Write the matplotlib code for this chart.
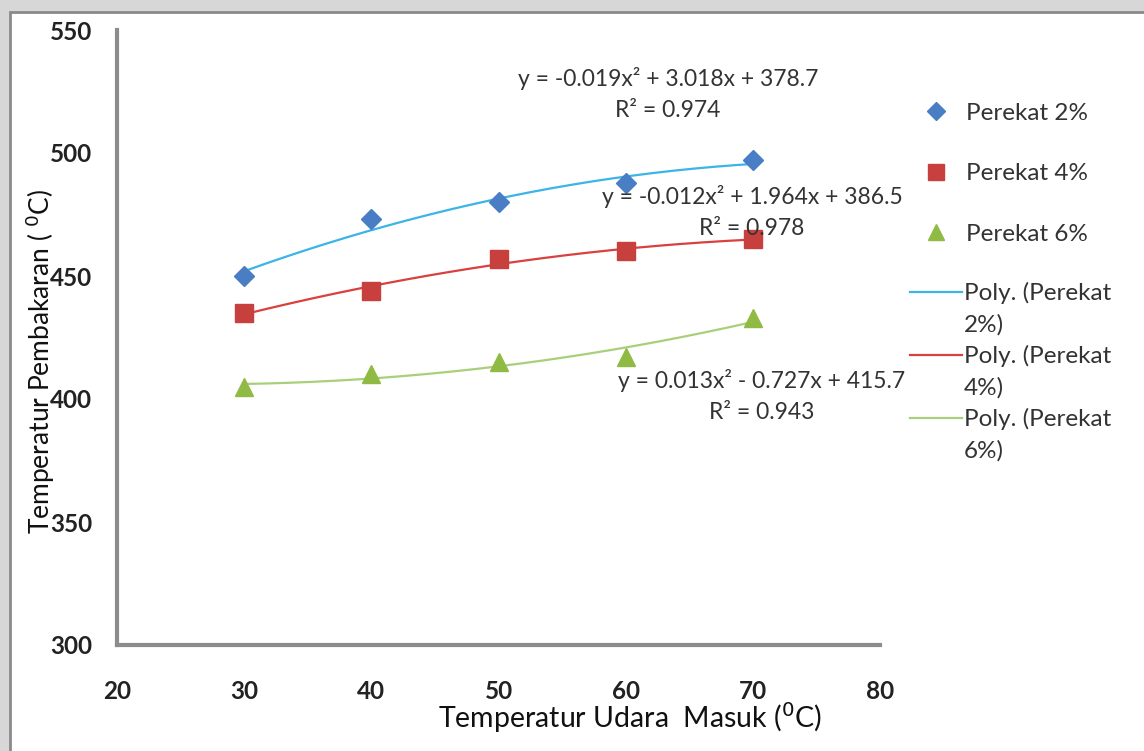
import numpy as np
import matplotlib
matplotlib.use("Agg")
import matplotlib.pyplot as plt
from matplotlib.lines import Line2D
from matplotlib.patches import Rectangle

# data
suhu_udara = [30, 40, 50, 60, 70]
perekat_2 = [450, 473, 480, 488, 497]
perekat_4 = [435, 444, 457, 460, 465]
perekat_6 = [405, 410, 415, 417, 433]

series_labels = ["Perekat 2%", "Perekat 4%", "Perekat 6%"]
trend_labels = ["Poly. (Perekat\n2%)", "Poly. (Perekat\n4%)", "Poly. (Perekat\n6%)"]
equations = [
    "y = -0.019x² + 3.018x + 378.7\nR² = 0.974",
    "y = -0.012x² + 1.964x + 386.5\nR² = 0.978",
    "y = 0.013x² - 0.727x + 415.7\nR² = 0.943",
]
x_ticks = [20, 30, 40, 50, 60, 70, 80]
y_ticks = [300, 350, 400, 450, 500, 550]

plt.rcParams["font.family"] = ["Lato", "DejaVu Sans"]

marker_colors = ["#4a7ec4", "#c8403d", "#8fbb45"]
line_colors = ["#3bb4e6", "#d9403f", "#a8d07a"]
markers = ["D", "s", "^"]
msizes = [10, 13, 13]

W, H = 1144, 751
fig = plt.figure(figsize=(W / 100, H / 100), dpi=100)
fig.patch.set_facecolor("#d7d7d7")
# white plot area with gray frame on top/left
frame = Rectangle((10 / W, -0.01), 1.0, (H - 12) / H + 0.01,
                  transform=fig.transFigure, facecolor="white",
                  edgecolor="#8a8a8a", linewidth=2, zorder=-5)
fig.patches.append(frame)

ax = fig.add_axes([117 / W, 1 - 645 / H, (880 - 117) / W, (645 - 30) / H])
ax.set_facecolor("none")
ax.set_zorder(2)

xs = np.array(suhu_udara)
xx = np.linspace(xs.min(), xs.max(), 200)
for ys, c_m, c_l, m, ms in zip([perekat_2, perekat_4, perekat_6],
                               marker_colors, line_colors, markers, msizes):
    coef = np.polyfit(xs, ys, 2)
    ax.plot(xx, np.polyval(coef, xx), color=c_l, linewidth=1.6, zorder=2)
    ax.plot(xs, ys, linestyle="none", marker=m, markersize=ms, color=c_m, zorder=3)

ax.set_xlim(20, 80)
ax.set_ylim(300, 550)
ax.set_xticks(x_ticks)
ax.set_yticks(y_ticks)
ax.tick_params(length=0, labelsize=17.5)
ax.tick_params(axis="x", pad=25)
ax.tick_params(axis="y", pad=18)
for lab in ax.get_xticklabels() + ax.get_yticklabels():
    lab.set_fontweight("bold")
    lab.set_color("#222222")
for s in ["top", "right"]:
    ax.spines[s].set_visible(False)
for s in ["left", "bottom"]:
    ax.spines[s].set_color("#8c8c8c")
    ax.spines[s].set_linewidth(3)

# equation annotations
eq_pos = [(668, 94), (752, 212), (762, 396)]
for txt, (px, py) in zip(equations, eq_pos):
    fig.text(px / W, 1 - py / H, txt, ha="center", va="center",
             fontsize=16.5, color="#333333", linespacing=1.55, zorder=5)

fig.text(630 / W, 1 - 718 / H, "Temperatur Udara  Masuk ($^0$C)",
         ha="center", va="center", fontsize=20.5, color="#111111")
fig.text(40 / W, 1 - 361 / H, "Temperatur Pembakaran ( $^0$C)",
         ha="center", va="center", rotation=90, fontsize=19, color="#111111")

# legend: marker entries
h1 = [Line2D([], [], linestyle="none", marker=m, markersize=ms * 0.9, color=c)
      for m, ms, c in zip(markers, msizes, marker_colors)]
leg1 = fig.legend(h1, series_labels, loc="upper left",
                  bbox_to_anchor=(898 / W, 1 - 81 / H), frameon=False,
                  fontsize=17.5, labelspacing=1.62, handlelength=1.3,
                  handletextpad=0.6, labelcolor="#333333")

# legend: trendline entries (handle aligned with first text line, as in Excel)
for i, (lbl, c) in enumerate(zip(trend_labels, line_colors)):
    y0 = 1 - (292 + 63 * i) / H
    fig.add_artist(Line2D([910 / W, 962 / W], [y0, y0], color=c, linewidth=1.6,
                          transform=fig.transFigure))
    fig.text(964 / W, y0 + 10 / H, lbl, ha="left", va="top", fontsize=17.5,
             color="#333333", linespacing=1.58)

fig.savefig("out.png", dpi=100, facecolor=fig.get_facecolor())
